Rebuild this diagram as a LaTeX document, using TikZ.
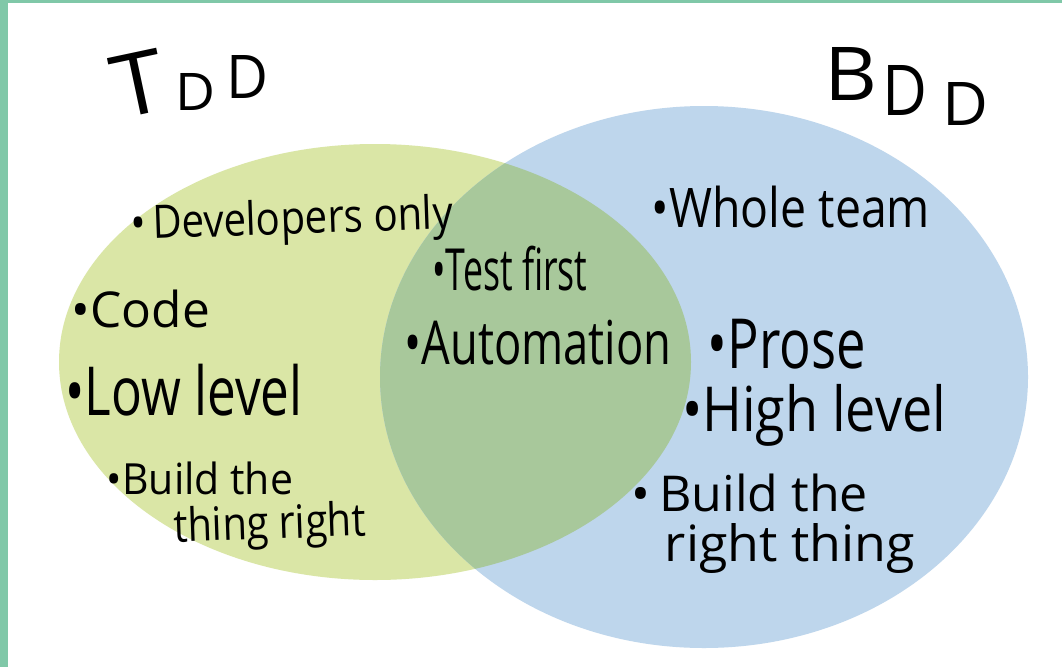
\documentclass[tikz,border=0pt]{standalone}
\usepackage{fontspec}
\setmainfont{Open Sans}
\usepackage{graphicx}
\definecolor{frame}{HTML}{80C8A8}
\definecolor{tddgreen}{HTML}{DAE6A6}
\definecolor{bddblue}{HTML}{BED6EC}
\definecolor{both}{HTML}{A8C89B}
\newcommand{\fitto}[3]{\resizebox*{#1pt}{#2pt}{#3}}
\tikzset{lbl/.style={inner sep=0pt, outer sep=0pt, anchor=center, text=black}}
\begin{document}
\begin{tikzpicture}[x=1pt,y=-1pt]
\useasboundingbox (0,0) rectangle (1062,667);
\fill[white] (0,0) rectangle (1062,667);
\fill[frame] (0,0) rectangle (8,667);
\fill[frame] (0,0) rectangle (1062,3);
% circles
\fill[tddgreen] (375,362) ellipse [x radius=316pt, y radius=218pt];
\fill[bddblue] (704,377) ellipse [x radius=324pt, y radius=271pt];
\begin{scope}
  \clip (375,362) ellipse [x radius=316pt, y radius=218pt];
  \fill[both] (704,377) ellipse [x radius=324pt, y radius=271pt];
\end{scope}
% titles: letters stepping up (TDD) and down (BDD)
\node[lbl, rotate=12] (tddT) at (138,84) {\fitto{52}{62}{T}};
\node[lbl] (tddD1) at (196,92) {\fitto{40}{37}{D}};
\node[lbl] (tddD2) at (247,77) {\fitto{42}{43}{D}};
\node[lbl] (bddB) at (851,74) {\fitto{53}{53}{B}};
\node[lbl] (bddD1) at (905,90) {\fitto{45}{50}{D}};
\node[lbl] (bddD2) at (965,104) {\fitto{46}{43}{D}};
% TDD only
\node[lbl, rotate=2] (dev) at (292,222) {\fitto{322}{46}{•\,Developers only}};
\node[lbl] (code) at (141,309) {\fitto{138}{38}{•Code}};
\node[lbl] (low) at (184,390) {\fitto{237}{52}{•Low level}};
\node[lbl] (bld1) at (200,478) {\fitto{186}{33}{•Build the}};
\node[lbl, rotate=2] (bld1b) at (270,527) {\fitto{192}{46}{thing right}};
% both
\node[lbl] (test) at (510,269) {\fitto{155}{45}{•Test first}};
\node[lbl] (auto) at (538,343) {\fitto{267}{45}{•Automation}};
% BDD only
\node[lbl] (team) at (791,207) {\fitto{278}{42}{•Whole team}};
\node[lbl] (prose) at (787,344) {\fitto{158}{50}{•Prose}};
\node[lbl] (high) at (814,415) {\fitto{264}{62}{•High level}};
\node[lbl] (bld2) at (750,493) {\fitto{236}{38}{•\,Build the}};
\node[lbl] (bld2b) at (790,548) {\fitto{250}{50}{right thing}};
\end{tikzpicture}
\end{document}
